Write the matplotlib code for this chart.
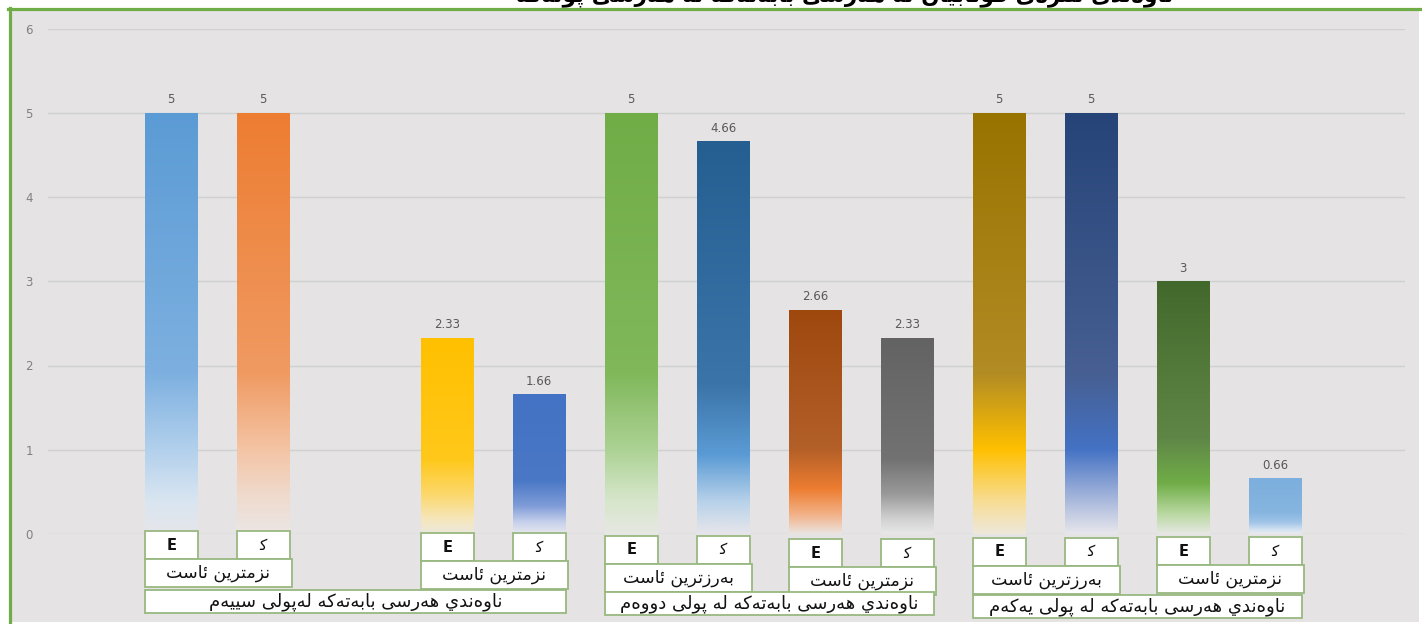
import matplotlib
matplotlib.use('Agg')

import matplotlib.pyplot as plt
import numpy as np
from matplotlib.colors import LinearSegmentedColormap
from matplotlib.patches import Rectangle
from matplotlib.lines import Line2D

#-- data --#
values = [5, 5, 2.33, 1.66, 5, 4.66, 2.66, 2.33, 5, 5, 3, 0.66]
value_labels = ['5', '5', '2.33', '1.66', '5', '4.66', '2.66', '2.33', '5', '5', '3', '0.66']
slots = [0, 1, 3, 4, 5, 6, 7, 8, 9, 10, 11, 12]
bar_tags = ['E', '\uFEDB'] * 6
pair_labels = ['نزمترین ئاست', 'نزمترین ئاست', 'بەرزترین ئاست',
               'نزمترین ئاست', 'بەرزترین ئاست', 'نزمترین ئاست']
group_labels = ['ناوەندي هەرسێ بابەتەکە لەپۆلی سێیەم',
                'ناوەندي هەرسێ بابەتەکە لە پۆلی دووەم',
                'ناوەندي هەرسێ بابەتەکە لە پۆلی یەکەم']
title = 'ناوەندی نمرەی قوتابیان لە هەرسێ بابەتەکە لە هەرسێ پۆلەکە'
yticks = [0, 1, 2, 3, 4, 5, 6]

#-- gradient colours, top of bar first --#
grad_colors = [
    ['#5b9bd5', '#7db0e0', '#b2d0ec', '#d8e5f1', '#e6e6ea'],
    ['#ed7d31', '#f09a62', '#f4c4a4', '#efdcd0', '#ebe6e4'],
    ['#ffc000', '#ffc81a', '#fcd86c', '#f6e6b8', '#ece8de'],
    ['#4472c4', '#4a78c6', '#7f9cd8', '#c8d2ec', '#e8e8ee'],
    ['#70ad47', '#80b85a', '#acd294', '#d6e6ca', '#e6e8e2'],
    ['#255e91', '#3b74a8', '#5b9bd5', '#b8d2ea', '#e6e6ea'],
    ['#9e480e', '#b35f28', '#ed7d31', '#f2b48c', '#ebe4e0'],
    ['#636363', '#727272', '#9a9a9a', '#cfcfcf', '#e8e8e8'],
    ['#997300', '#b28c24', '#ffc000', '#f8dc90', '#eee8da'],
    ['#264478', '#475f92', '#4472c4', '#a8b8dc', '#e6e6ec'],
    ['#43682b', '#5f8647', '#70ad47', '#b8d8a0', '#e6e8e2'],
    ['#7cafdd', '#86b5e0', '#a3c6e9', '#d2e2f1', '#eaeaee'],
]
grad_stops = [0.0, 0.62, 0.8, 0.92, 1.0]

#-- tiny arabic shaper (matplotlib has no shaping) --#
FORMS = {
    'ا': ('\uFE8D', '\uFE8E', None, None),
    'ب': ('\uFE8F', '\uFE90', '\uFE91', '\uFE92'),
    'ت': ('\uFE95', '\uFE96', '\uFE97', '\uFE98'),
    'د': ('\uFEA9', '\uFEAA', None, None),
    'ر': ('\uFEAD', '\uFEAE', None, None),
    'ز': ('\uFEAF', '\uFEB0', None, None),
    'س': ('\uFEB1', '\uFEB2', '\uFEB3', '\uFEB4'),
    'ق': ('\uFED5', '\uFED6', '\uFED7', '\uFED8'),
    'ل': ('\uFEDD', '\uFEDE', '\uFEDF', '\uFEE0'),
    'م': ('\uFEE1', '\uFEE2', '\uFEE3', '\uFEE4'),
    'ن': ('\uFEE5', '\uFEE6', '\uFEE7', '\uFEE8'),
    'ه': ('\uFEE9', '\uFEEA', '\uFEEB', '\uFEEC'),
    'و': ('\uFEED', '\uFEEE', None, None),
    'ي': ('\uFEF1', '\uFEF2', '\uFEF3', '\uFEF4'),
    'ی': ('\uFEEF', '\uFEF0', '\uFEF3', '\uFEF4'),
    'ێ': ('\uFEEF', '\uFEF0', '\uFEF3', '\uFEF4'),
    'ک': ('\uFED9', '\uFEDA', '\uFEDB', '\uFEDC'),
    'ئ': ('\uFE89', '\uFE8A', '\uFE8B', '\uFE8C'),
    'ە': ('\uFEE9', '\uFEEA', None, None),
    'ۆ': ('\uFEED', '\uFEEE', None, None),
    'پ': ('\uFB56', '\uFB57', '\uFB58', '\uFB59'),
}


def joins_next(c):
    return c in FORMS and FORMS[c][2] is not None


def shape(text):
    out = []
    n = len(text)
    i = 0
    while i < n:
        c = text[i]
        if c not in FORMS:
            out.append(c)
            i += 1
            continue
        prev = text[i - 1] if i > 0 else None
        nxt = text[i + 1] if i + 1 < n else None
        cp = prev is not None and joins_next(prev)
        if c == 'ل' and nxt == 'ا':
            out.append('\uFEFC' if cp else '\uFEFB')
            i += 2
            continue
        cn = joins_next(c) and nxt in FORMS
        iso, fin, ini, med = FORMS[c]
        if cp and cn:
            out.append(med)
        elif cp:
            out.append(fin)
        elif cn:
            out.append(ini)
        else:
            out.append(iso)
        i += 1
    return ''.join(reversed(out))


plt.rcParams['font.family'] = ['DejaVu Sans']

fig = plt.figure(figsize=(14.22, 6.24), dpi=100, facecolor='white')
W, H = 1422.0, 624.0

#-- panel + green border --#
fig.patches.append(Rectangle((11 / W, 2 / H), (1419 - 11) / W, (614 - 2) / H,
                             transform=fig.transFigure, facecolor='#e5e3e4',
                             edgecolor='none', zorder=-10))
fig.lines.append(Line2D([8 / W, 1], [1 - 8.5 / H, 1 - 8.5 / H], transform=fig.transFigure,
                        color='#70ad47', lw=2.3, zorder=-5))
fig.lines.append(Line2D([9.5 / W, 9.5 / W], [0, 1 - 8 / H], transform=fig.transFigure,
                        color='#70ad47', lw=2.3, zorder=-5))
fig.text(845 / W, 1 - 1 / H, shape(title), ha='center', va='baseline',
         fontsize=15.5, fontweight='bold', color='black', zorder=-6)

ax = fig.add_axes([48 / W, 90 / H, 1357 / W, 505.5 / H])
ax.patch.set_visible(False)
for s in ax.spines.values():
    s.set_visible(False)

bw = 0.576
bars = ax.bar(slots, values, width=bw, color='none', edgecolor='none', zorder=2)

for b, cols, v in zip(bars, grad_colors, values):
    pos = [1 - s for s in grad_stops][::-1]
    cm = LinearSegmentedColormap.from_list('g', list(zip(pos, cols[::-1])))
    grad = np.linspace(0, 1, 256).reshape(-1, 1)
    x0 = b.get_x()
    im = ax.imshow(grad, extent=[x0, x0 + bw, 0, v], origin='lower', aspect='auto',
                   cmap=cm, zorder=2, interpolation='bilinear')
    im.set_clip_path(b)

for x, v, lab in zip(slots, values, value_labels):
    ax.text(x, v + 0.155, lab, ha='center', va='center', fontsize=8.5, color='#595959')

ax.set_xlim(-1.34, 13.41)
ax.set_ylim(0, 6)
ax.set_yticks(yticks)
ax.set_xticks([])
ax.yaxis.grid(True, color='#d0d0d0', lw=1)
ax.set_axisbelow(True)
ax.tick_params(axis='y', length=0, labelcolor='#808080', labelsize=8.5, pad=11)

#-- label boxes under the bars --#
ppu = 505.5 / 6.0


def py(p):
    return (534 - p) / ppu


def box(xa, xb, ya, yb, txt, bold=False, fs=12):
    r = Rectangle((xa, py(yb)), xb - xa, py(ya) - py(yb), facecolor='white',
                  edgecolor='#98b880', lw=1.3, clip_on=False, zorder=5)
    ax.add_patch(r)
    ax.text((xa + xb) / 2, (py(ya) + py(yb)) / 2, txt, ha='center', va='center',
            fontsize=fs, fontweight='bold' if bold else 'normal', color='#111111',
            clip_on=False, zorder=6)


pair_dy = [0, 2, 5, 8, 7, 6]
group_dy = [0, 2, 5]
half = bw / 2
for k in range(6):
    xe, xk = slots[2 * k], slots[2 * k + 1]
    dy = pair_dy[k]
    box(xe - half, xe + half, 531 + dy, 559 + dy, bar_tags[2 * k], bold=True, fs=10.5)
    box(xk - half, xk + half, 531 + dy, 559 + dy, bar_tags[2 * k + 1], fs=11)
    box(xe - half, xk + half + 0.02, 559 + dy, 587 + dy, shape(pair_labels[k]), fs=12.5)
for g in range(3):
    xa = slots[4 * g] - half
    xb = slots[4 * g + 3] + half
    dy = group_dy[g]
    box(xa, xb, 590 + dy, 613 + dy, shape(group_labels[g]), fs=13)

plt.savefig('out.png', dpi=100, facecolor='white')
